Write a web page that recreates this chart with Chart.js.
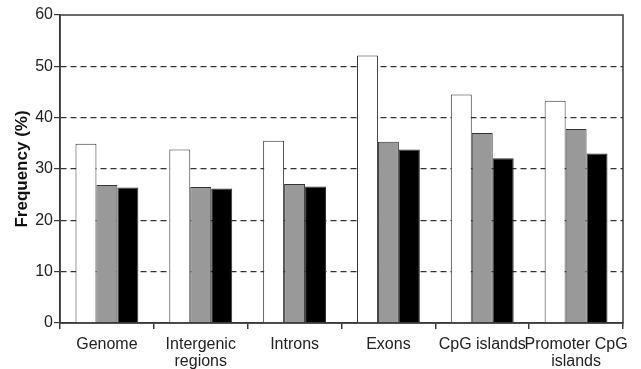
<!DOCTYPE html>
<html>
<head>
<meta charset="utf-8">
<script src="https://cdn.jsdelivr.net/npm/chart.js@4"></script>
<style>
  html, body { margin: 0; padding: 0; background: #fff; }
  #wrap { width: 641px; height: 369px; }
</style>
</head>
<body>
<div id="wrap"><canvas id="myChart" width="641" height="369"></canvas></div>
<script>
// categories and series
var categories = ["Genome", ["Intergenic", "regions"], "Introns", "Exons", "CpG islands", ["Promoter CpG", "islands"]];
var whiteVals = [34.9, 33.8, 35.5, 52.1, 44.5, 43.3];
var grayVals  = [26.9, 26.5, 27.1, 35.3, 37.0, 37.8];
var blackVals = [26.4, 26.2, 26.6, 33.8, 32.1, 33.0];
var yTicks = [0, 10, 20, 30, 40, 50, 60];

var lineCol = '#3a3a3a';
var fontFam = 'Liberation Sans, Arial, Helvetica';

// box around the plot area (solid top + right edge)
var framePlugin = {
    id: 'frame',
    afterDatasetsDraw: function (chart) {
        var a = chart.chartArea, ctx = chart.ctx;
        ctx.save();
        ctx.strokeStyle = lineCol;
        ctx.lineWidth = 1.5;
        ctx.strokeRect(a.left, a.top, a.right - a.left, a.bottom - a.top);
        ctx.restore();
    }
};

function ds(label, data, fill) {
    return {
        label: label,
        data: data,
        backgroundColor: fill,
        borderColor: '#333',
        borderWidth: 1,
        borderSkipped: 'bottom'
    };
}

var ctx = document.getElementById('myChart').getContext('2d');
var myChart = new Chart(ctx, {
    type: 'bar',
    data: {
        labels: categories,
        datasets: [
            ds('white', whiteVals, '#ffffff'),
            ds('gray', grayVals, '#999999'),
            ds('black', blackVals, '#000000')
        ]
    },
    options: {
        responsive: false,
        animation: false,
        devicePixelRatio: 1,
        layout: { padding: { top: 15, right: 18, left: 0, bottom: 0 } },
        plugins: { legend: { display: false }, tooltip: { enabled: false } },
        datasets: { bar: { barPercentage: 1, categoryPercentage: 0.67 } },
        scales: {
            x: {
                offset: true,
                grid: { display: true, drawOnChartArea: false, offset: true, tickLength: 6, color: lineCol, lineWidth: 1.5 },
                border: { color: lineCol, width: 1.5 },
                ticks: { color: '#222', font: { family: fontFam, size: 16, lineHeight: 1.05 }, padding: 7, maxRotation: 0, autoSkip: false },
                afterFit: function (s) { s.height = 46; }
            },
            y: {
                min: 0,
                max: 60,
                afterBuildTicks: function (s) { s.ticks = yTicks.map(function (v) { return { value: v }; }); },
                grid: {
                    color: function (c) { return (c.tick && (c.tick.value === 0 || c.tick.value === 60)) ? 'rgba(0,0,0,0)' : '#333'; },
                    tickColor: lineCol,
                    lineWidth: 1.2,
                    tickLength: 6,
                    tickBorderDash: []
                },
                border: { color: lineCol, width: 1.5, dash: [6, 4] },
                ticks: { color: '#222', font: { family: fontFam, size: 16 }, padding: 1 },
                title: { display: true, text: 'Frequency (%)', color: '#111', font: { family: fontFam, size: 17, weight: 'bold' }, padding: { top: 12, bottom: 0 } },
                afterFit: function (s) { s.width = 60; }
            }
        }
    },
    plugins: [framePlugin]
});
</script>
</body>
</html>
